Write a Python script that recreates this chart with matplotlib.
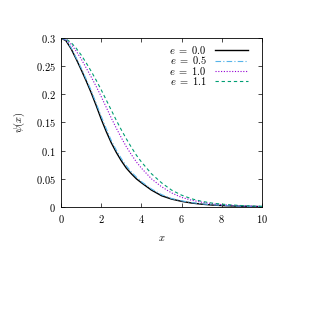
import numpy as np
import matplotlib
matplotlib.use('Agg')
import matplotlib.pyplot as plt
from matplotlib.ticker import FuncFormatter

plt.rcParams['mathtext.fontset'] = 'cm'
plt.rcParams['font.family'] = 'DejaVu Serif'

x = [0, 0.25, 0.5, 0.75, 1.0, 1.25, 1.5, 1.75, 2.0, 2.25, 2.5, 2.75, 3.0, 3.25, 3.5, 3.75,
     4.0, 4.5, 5.0, 5.5, 6.0, 6.5, 7.0, 7.5, 8.0, 8.5, 9.0, 9.5, 10.0]
psi_e00 = [0.300, 0.295, 0.281, 0.263, 0.244, 0.224, 0.203, 0.180, 0.156, 0.134, 0.114, 0.097, 0.082, 0.069, 0.059, 0.050,
           0.043, 0.030, 0.020, 0.014, 0.010, 0.007, 0.005, 0.0035, 0.0025, 0.0018, 0.0012, 0.0009, 0.0006]
psi_e05 = [0.300, 0.296, 0.283, 0.265, 0.247, 0.227, 0.207, 0.184, 0.161, 0.139, 0.118, 0.101, 0.086, 0.073, 0.062, 0.053,
           0.045, 0.032, 0.022, 0.015, 0.011, 0.0078, 0.0056, 0.004, 0.0029, 0.002, 0.0014, 0.001, 0.0007]
psi_e10 = [0.300, 0.297, 0.289, 0.277, 0.263, 0.247, 0.231, 0.214, 0.196, 0.177, 0.158, 0.140, 0.123, 0.107, 0.093, 0.080,
           0.069, 0.050, 0.036, 0.025, 0.017, 0.012, 0.0085, 0.006, 0.0042, 0.003, 0.0021, 0.0015, 0.001]
psi_e11 = [0.300, 0.298, 0.292, 0.282, 0.270, 0.256, 0.241, 0.225, 0.208, 0.190, 0.172, 0.154, 0.137, 0.121, 0.106, 0.092,
           0.080, 0.059, 0.043, 0.030, 0.021, 0.0145, 0.010, 0.007, 0.005, 0.0036, 0.0025, 0.0017, 0.0012]

labels = [r'$e\ =\ 0.0$', r'$e\ =\ 0.5$', r'$e\ =\ 1.0$', r'$e\ =\ 1.1$']
colors = ['black', '#56b4e9', '#9400d3', '#009e73']
styles = ['-', (0, (5, 2, 1, 2)), (0, (1, 1.5)), (0, (3, 2.5))]
widths = [1.0, 0.8, 0.8, 0.8]

fig = plt.figure(figsize=(3.15, 3.15), dpi=100)
ax = fig.add_axes([0.1937, 0.3429, 0.638, 0.5365])

series = [psi_e00, psi_e05, psi_e10, psi_e11]
for i in range(4):
    ax.plot(x, series[i], color=colors[i], linestyle=styles[i], linewidth=widths[i], label=labels[i])

ax.set_xlim(0, 10)
ax.set_ylim(0, 0.3)
ax.set_xticks([0, 2, 4, 6, 8, 10])
ax.set_yticks([0, 0.05, 0.1, 0.15, 0.2, 0.25, 0.3])
ax.xaxis.set_major_formatter(FuncFormatter(lambda v, p: '$%g$' % v))
ax.yaxis.set_major_formatter(FuncFormatter(lambda v, p: '$%g$' % round(v, 2)))
ax.tick_params(direction='in', length=3, width=0.5, top=True, right=True, labelsize=7.5, pad=4)
for s in ax.spines.values():
    s.set_linewidth(0.6)

ax.set_xlabel('$x$', fontsize=7.5, labelpad=7)
ax.set_ylabel(r'$\psi(x)$', fontsize=7.5, labelpad=6)

ax.legend(loc='upper right', frameon=False, markerfirst=False, fontsize=7.5,
          handlelength=3.1, labelspacing=-0.15, handletextpad=0.8,
          bbox_to_anchor=(0.975, 1.021))

plt.savefig('out.png', dpi=100)
